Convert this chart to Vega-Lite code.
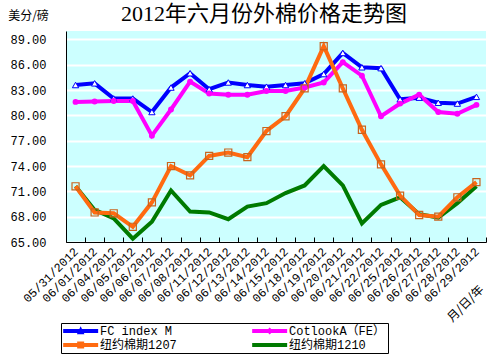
{
  "$schema": "https://vega.github.io/schema/vega-lite/v6.json",
  "width": 420,
  "height": 211,
  "autosize": {"type": "none"},
  "padding": {"left": 66, "top": 31, "right": 6, "bottom": 118},
  "background": "white",
  "title": {
    "text": "2012年六月份外棉价格走势图",
    "font": "Liberation Serif, Noto Sans CJK SC",
    "fontSize": 22,
    "fontWeight": "normal",
    "color": "black",
    "anchor": "middle",
    "dx": -12,
    "dy": 21,
    "offset": 4
  },
  "config": {
    "view": {"fill": "#CCFFFF", "stroke": null}
  },
  "data": {
    "values": [
      {"date": "05/31/2012", "series": "FC index M", "price": 83.6},
      {"date": "06/01/2012", "series": "FC index M", "price": 83.8},
      {"date": "06/04/2012", "series": "FC index M", "price": 82.0},
      {"date": "06/05/2012", "series": "FC index M", "price": 82.0},
      {"date": "06/06/2012", "series": "FC index M", "price": 80.4},
      {"date": "06/07/2012", "series": "FC index M", "price": 83.3},
      {"date": "06/08/2012", "series": "FC index M", "price": 85.0},
      {"date": "06/11/2012", "series": "FC index M", "price": 83.1},
      {"date": "06/12/2012", "series": "FC index M", "price": 83.9},
      {"date": "06/13/2012", "series": "FC index M", "price": 83.6},
      {"date": "06/14/2012", "series": "FC index M", "price": 83.4},
      {"date": "06/15/2012", "series": "FC index M", "price": 83.6},
      {"date": "06/18/2012", "series": "FC index M", "price": 83.8},
      {"date": "06/19/2012", "series": "FC index M", "price": 84.9},
      {"date": "06/20/2012", "series": "FC index M", "price": 87.4},
      {"date": "06/21/2012", "series": "FC index M", "price": 85.7},
      {"date": "06/22/2012", "series": "FC index M", "price": 85.6},
      {"date": "06/25/2012", "series": "FC index M", "price": 81.9},
      {"date": "06/26/2012", "series": "FC index M", "price": 82.1},
      {"date": "06/27/2012", "series": "FC index M", "price": 81.5},
      {"date": "06/28/2012", "series": "FC index M", "price": 81.4},
      {"date": "06/29/2012", "series": "FC index M", "price": 82.2},
      {"date": "05/31/2012", "series": "CotlookA（FE）", "price": 81.6},
      {"date": "06/01/2012", "series": "CotlookA（FE）", "price": 81.65},
      {"date": "06/04/2012", "series": "CotlookA（FE）", "price": 81.7},
      {"date": "06/05/2012", "series": "CotlookA（FE）", "price": 81.7},
      {"date": "06/06/2012", "series": "CotlookA（FE）", "price": 77.6},
      {"date": "06/07/2012", "series": "CotlookA（FE）", "price": 80.7},
      {"date": "06/08/2012", "series": "CotlookA（FE）", "price": 84.0},
      {"date": "06/11/2012", "series": "CotlookA（FE）", "price": 82.6},
      {"date": "06/12/2012", "series": "CotlookA（FE）", "price": 82.45},
      {"date": "06/13/2012", "series": "CotlookA（FE）", "price": 82.45},
      {"date": "06/14/2012", "series": "CotlookA（FE）", "price": 82.9},
      {"date": "06/15/2012", "series": "CotlookA（FE）", "price": 82.9},
      {"date": "06/18/2012", "series": "CotlookA（FE）", "price": 83.3},
      {"date": "06/19/2012", "series": "CotlookA（FE）", "price": 83.9},
      {"date": "06/20/2012", "series": "CotlookA（FE）", "price": 86.3},
      {"date": "06/21/2012", "series": "CotlookA（FE）", "price": 84.7},
      {"date": "06/22/2012", "series": "CotlookA（FE）", "price": 79.9},
      {"date": "06/25/2012", "series": "CotlookA（FE）", "price": 81.4},
      {"date": "06/26/2012", "series": "CotlookA（FE）", "price": 82.45},
      {"date": "06/27/2012", "series": "CotlookA（FE）", "price": 80.4},
      {"date": "06/28/2012", "series": "CotlookA（FE）", "price": 80.2},
      {"date": "06/29/2012", "series": "CotlookA（FE）", "price": 81.25},
      {"date": "05/31/2012", "series": "纽约棉期1210", "price": 71.6},
      {"date": "06/01/2012", "series": "纽约棉期1210", "price": 68.8},
      {"date": "06/04/2012", "series": "纽约棉期1210", "price": 67.8},
      {"date": "06/05/2012", "series": "纽约棉期1210", "price": 65.4},
      {"date": "06/06/2012", "series": "纽约棉期1210", "price": 67.4},
      {"date": "06/07/2012", "series": "纽约棉期1210", "price": 71.1},
      {"date": "06/08/2012", "series": "纽约棉期1210", "price": 68.6},
      {"date": "06/11/2012", "series": "纽约棉期1210", "price": 68.5},
      {"date": "06/12/2012", "series": "纽约棉期1210", "price": 67.7},
      {"date": "06/13/2012", "series": "纽约棉期1210", "price": 69.2},
      {"date": "06/14/2012", "series": "纽约棉期1210", "price": 69.6},
      {"date": "06/15/2012", "series": "纽约棉期1210", "price": 70.8},
      {"date": "06/18/2012", "series": "纽约棉期1210", "price": 71.7},
      {"date": "06/19/2012", "series": "纽约棉期1210", "price": 74.0},
      {"date": "06/20/2012", "series": "纽约棉期1210", "price": 71.7},
      {"date": "06/21/2012", "series": "纽约棉期1210", "price": 67.2},
      {"date": "06/22/2012", "series": "纽约棉期1210", "price": 69.4},
      {"date": "06/25/2012", "series": "纽约棉期1210", "price": 70.3},
      {"date": "06/26/2012", "series": "纽约棉期1210", "price": 68.3},
      {"date": "06/27/2012", "series": "纽约棉期1210", "price": 67.9},
      {"date": "06/28/2012", "series": "纽约棉期1210", "price": 69.6},
      {"date": "06/29/2012", "series": "纽约棉期1210", "price": 71.6},
      {"date": "05/31/2012", "series": "纽约棉期1207", "price": 71.6},
      {"date": "06/01/2012", "series": "纽约棉期1207", "price": 68.5},
      {"date": "06/04/2012", "series": "纽约棉期1207", "price": 68.4},
      {"date": "06/05/2012", "series": "纽约棉期1207", "price": 66.8},
      {"date": "06/06/2012", "series": "纽约棉期1207", "price": 69.7},
      {"date": "06/07/2012", "series": "纽约棉期1207", "price": 74.0},
      {"date": "06/08/2012", "series": "纽约棉期1207", "price": 72.9},
      {"date": "06/11/2012", "series": "纽约棉期1207", "price": 75.2},
      {"date": "06/12/2012", "series": "纽约棉期1207", "price": 75.6},
      {"date": "06/13/2012", "series": "纽约棉期1207", "price": 75.05},
      {"date": "06/14/2012", "series": "纽约棉期1207", "price": 78.15},
      {"date": "06/15/2012", "series": "纽约棉期1207", "price": 79.9},
      {"date": "06/18/2012", "series": "纽约棉期1207", "price": 83.2},
      {"date": "06/19/2012", "series": "纽约棉期1207", "price": 88.2},
      {"date": "06/20/2012", "series": "纽约棉期1207", "price": 83.2},
      {"date": "06/21/2012", "series": "纽约棉期1207", "price": 78.3},
      {"date": "06/22/2012", "series": "纽约棉期1207", "price": 74.2},
      {"date": "06/25/2012", "series": "纽约棉期1207", "price": 70.5},
      {"date": "06/26/2012", "series": "纽约棉期1207", "price": 68.2},
      {"date": "06/27/2012", "series": "纽约棉期1207", "price": 68.0},
      {"date": "06/28/2012", "series": "纽约棉期1207", "price": 70.3},
      {"date": "06/29/2012", "series": "纽约棉期1207", "price": 72.1}
    ]
  },
  "encoding": {
    "x": {
      "field": "date",
      "type": "ordinal",
      "sort": null,
      "scale": {"type": "band", "paddingInner": 0, "paddingOuter": 0},
      "axis": {
        "title": "月/日/年",
        "titleAngle": -45,
        "titleX": 399,
        "titleY": 61,
        "titleAlign": "center",
        "titleBaseline": "middle",
        "titleFont": "Noto Sans CJK SC",
        "titleFontSize": 12,
        "titleFontWeight": "normal",
        "titleColor": "black",
        "labelAngle": -45,
        "labelAlign": "right",
        "labelBaseline": "middle",
        "labelFont": "Liberation Mono",
        "labelFontSize": 12,
        "labelColor": "black",
        "labelOverlap": false,
        "labelPadding": 12,
        "tickBand": "extent",
        "tickColor": "black",
        "tickSize": -5,
        "domainColor": "black",
        "grid": false,
        "zindex": 1
      }
    },
    "y": {
      "field": "price",
      "type": "quantitative",
      "scale": {"domain": [65, 90], "nice": false, "zero": false},
      "axis": {
        "values": [65, 68, 71, 74, 77, 80, 83, 86, 89],
        "format": ".2f",
        "title": "美分/磅",
        "titleAngle": 0,
        "titleX": -38,
        "titleY": -16,
        "titleAlign": "center",
        "titleBaseline": "middle",
        "titleFont": "Noto Sans CJK SC",
        "titleFontSize": 12,
        "titleFontWeight": "normal",
        "titleColor": "black",
        "labelFont": "Liberation Mono",
        "labelFontSize": 12,
        "labelColor": "black",
        "labelPadding": 20,
        "ticks": false,
        "domainColor": "black",
        "grid": true,
        "gridColor": "white",
        "gridWidth": 2,
        "gridOpacity": 1
      }
    }
  },
  "layer": [
    {
      "mark": {"type": "point", "filled": true, "opacity": 0},
      "encoding": {
        "color": {
          "field": "series",
          "type": "nominal",
          "scale": {
            "domain": ["FC index M", "CotlookA（FE）", "纽约棉期1207", "纽约棉期1210"],
            "range": ["#0000FF", "#FF00FF", "#FF6A10", "#007A00"]
          },
          "legend": {
            "orient": "none",
            "legendX": -5,
            "legendY": 292,
            "columns": 2,
            "direction": "horizontal",
            "title": null,
            "symbolSize": 136,
            "symbolStrokeWidth": 0,
            "symbolOpacity": 1,
            "labelFont": "Liberation Mono, Noto Sans CJK SC",
            "labelFontSize": 12,
            "labelColor": "black",
            "labelOffset": 25,
            "strokeColor": "black",
            "fillColor": "white",
            "padding": 2,
            "rowPadding": 2,
            "columnPadding": 75
          }
        },
        "shape": {
          "field": "series",
          "type": "nominal",
          "scale": {
            "domain": ["FC index M", "CotlookA（FE）", "纽约棉期1207", "纽约棉期1210"],
            "range": [
              "M-1,-0.34H5V0.34H-1ZM2,-0.8L2.65,0.55H1.35Z",
              "M-1,-0.34H5V0.34H-1ZM2,-0.6L2.6,0L2,0.6L1.4,0Z",
              "M-1,-0.34H5V0.34H-1ZM1.4,-0.6H2.6V0.6H1.4Z",
              "M-1,-0.34H5V0.34H-1Z"
            ]
          },
          "legend": {
            "orient": "none",
            "legendX": -5,
            "legendY": 292,
            "columns": 2,
            "direction": "horizontal",
            "title": null,
            "symbolSize": 136,
            "symbolStrokeWidth": 0,
            "symbolOpacity": 1,
            "labelFont": "Liberation Mono, Noto Sans CJK SC",
            "labelFontSize": 12,
            "labelColor": "black",
            "labelOffset": 25,
            "strokeColor": "black",
            "fillColor": "white",
            "padding": 2,
            "rowPadding": 2,
            "columnPadding": 75
          }
        }
      }
    },
    {
      "mark": {"type": "line", "strokeWidth": 4},
      "encoding": {
        "color": {"field": "series", "type": "nominal", "legend": null}
      }
    },
    {
      "transform": [{"filter": "datum.series === 'FC index M'"}],
      "mark": {"type": "point", "shape": "triangle-up", "size": 40, "filled": true, "fill": "white", "stroke": "#0000FF", "strokeWidth": 1, "opacity": 1}
    },
    {
      "transform": [{"filter": "datum.series === 'CotlookA（FE）'"}],
      "mark": {"type": "point", "shape": "circle", "size": 35, "filled": true, "color": "#FF00FF", "opacity": 1}
    },
    {
      "transform": [{"filter": "datum.series === '纽约棉期1207'"}],
      "mark": {"type": "point", "shape": "square", "size": 50, "filled": false, "stroke": "#C8641E", "strokeWidth": 1.2, "opacity": 1}
    }
  ]
}
